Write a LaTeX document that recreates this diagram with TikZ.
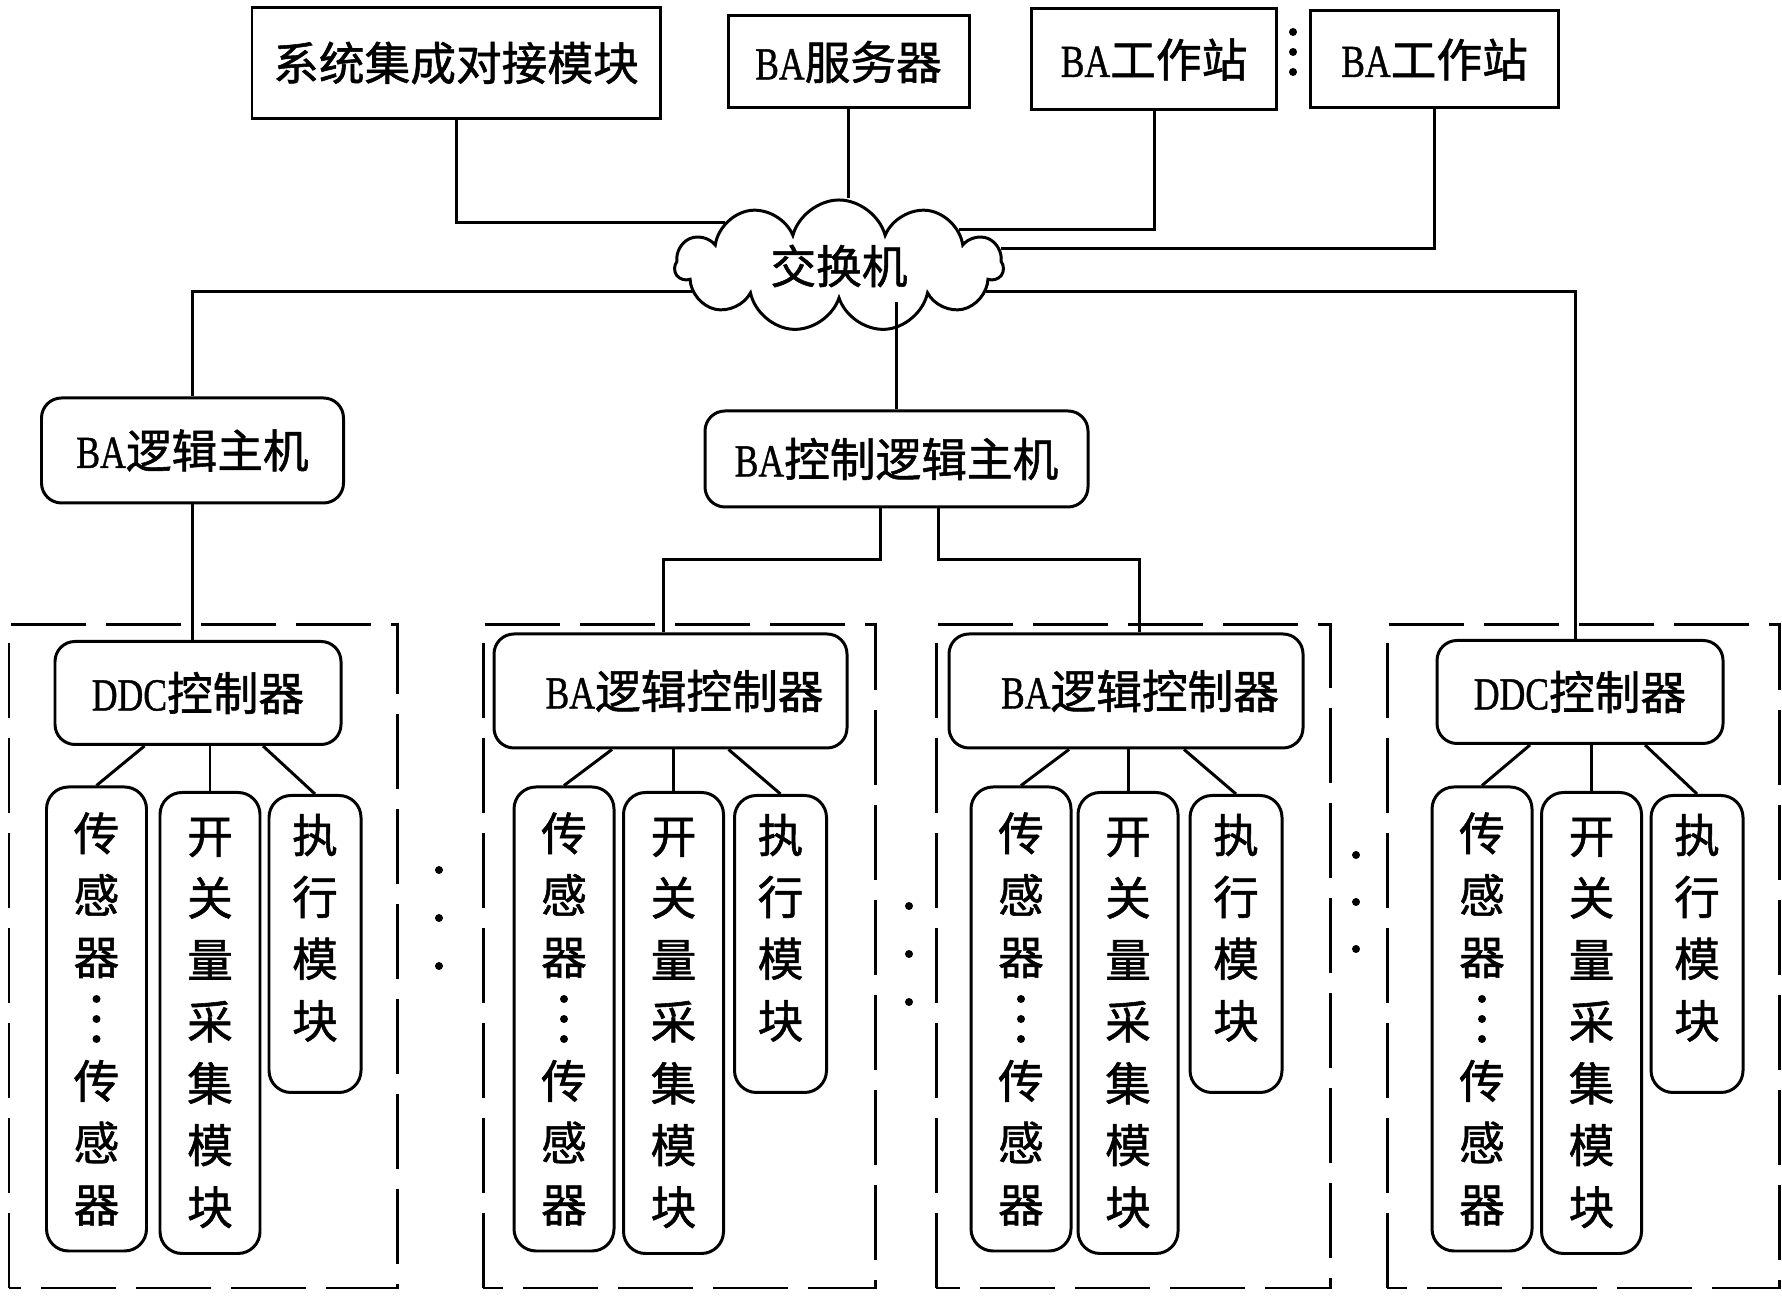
\documentclass[tikz,border=0pt]{standalone}
\usepackage{fontspec}
\usepackage{graphicx}
\setmainfont[FakeBold=1]{Liberation Serif}
\newfontfamily\cjk[FakeBold=1.2]{Noto Sans CJK SC}
\usetikzlibrary{shapes.symbols}
\newcommand{\lat}[1]{\scalebox{0.78}[1]{\rmfamily #1}}
\begin{document}
\begin{tikzpicture}[
        font=\fontsize{13pt}{17.6pt}\selectfont\cjk,
        line width=0.85pt,
        sqbox/.style={draw,rectangle,inner sep=0pt},
        rbox/.style={draw,rectangle,rounded corners=0.2cm,inner sep=0pt},
        leaf/.style={draw,rectangle,rounded corners=0.22cm,inner sep=0pt,align=center,minimum width=1cm},
        grp/.style={dash pattern=on 0.75cm off 0.2cm}]
        \def\W{17.82}   %define picture width
        \def\H{12.97}   %define picture height
        \path[fill=white,use as bounding box] (0,0) rectangle (\W,\H);
        % top row
        \node[sqbox,minimum width=4.08cm,minimum height=1.11cm] (sys) at (4.56,12.34) {系统集成对接模块};
        \node[sqbox,minimum width=2.41cm,minimum height=0.92cm] (srv) at (8.485,12.35) {\lat{BA}服务器};
        \node[sqbox,minimum width=2.45cm,minimum height=1.01cm] (ws1) at (11.54,12.375) {\lat{BA}工作站};
        \node[sqbox,minimum width=2.48cm,minimum height=0.97cm] (ws2) at (14.345,12.375) {\lat{BA}工作站};
        % switch
        \node[draw,cloud,cloud puffs=11,cloud ignores aspect,inner sep=0pt,
              minimum width=3.28cm,minimum height=1.32cm] (sw) at (8.39,10.31) {交换机};
        % hosts
        \node[rbox,minimum width=3.02cm,minimum height=1.05cm] (hostl) at (1.925,8.465) {\lat{BA}逻辑主机};
        \node[rbox,minimum width=3.83cm,minimum height=0.96cm] (hostc) at (8.965,8.38) {\lat{BA}控制逻辑主机};
        % group frames
        \foreach \a/\b in {0.09/3.97, 4.83/8.75, 9.36/13.30, 13.87/17.79}
            \draw[grp] (\a,0.09) rectangle (\b,6.72);
        % controllers
        \node[rbox,minimum width=2.86cm,minimum height=1.03cm] (c1) at (1.98,6.04) {\lat{DDC}控制器};
        \node[rbox,minimum width=3.53cm,minimum height=1.14cm] (c2) at (6.705,6.06) {\hspace*{0.28cm}\lat{BA}逻辑控制器};
        \node[rbox,minimum width=3.54cm,minimum height=1.14cm] (c3) at (11.26,6.06) {\hspace*{0.28cm}\lat{BA}逻辑控制器};
        \node[rbox,minimum width=2.86cm,minimum height=1.03cm] (c4) at (15.80,6.05) {\lat{DDC}控制器};
        % field modules
        \foreach \i/\sx/\kx/\ex in {1/0.965/2.10/3.15, 2/5.64/6.735/7.805, 3/10.21/11.28/12.36, 4/14.82/15.915/16.97}{
            \node[leaf,minimum height=4.64cm] (s\i) at (\sx,2.78) {传\\感\\器\\[0.62cm]传\\感\\器};
            \node[leaf,minimum height=4.61cm] (k\i) at (\kx,2.74) {开\\关\\量\\采\\集\\模\\块};
            \node[leaf,minimum width=0.92cm,minimum height=2.97cm] (e\i) at (\ex,3.53)
                {\parbox[c][2.6cm][t]{0.6cm}{\centering 执\\行\\模\\块}};
            \foreach \d in {-0.2,0,0.2} \fill (s\i.center) ++(0,\d) circle (0.04);
            \draw (s\i.north) -- ([xshift=0.48cm]s\i.north |- c\i.south);
            \draw (k\i.north) -- (k\i.north |- c\i.south);
            \draw (e\i.north) -- ([xshift=-0.52cm]e\i.north |- c\i.south);
        }
        % ellipsis dots
        \foreach \x/\y in {12.93/12.65, 12.93/12.45, 12.93/12.25, 4.39/4.27, 4.39/3.79, 4.39/3.31,
                           9.09/3.91, 9.09/3.43, 9.09/2.95, 13.56/4.42, 13.56/3.95, 13.56/3.48}
            \fill (\x,\y) circle (0.04);
        % links to the switch
        \draw (sys.south) |- (sw.159);
        \draw (srv.south) -- (srv.south |- sw.north);
        \draw (ws1.south) |- (sw.17);
        \draw (ws2.south) |- (sw.6);
        \draw (sw.190) -| (hostl.north);
        \draw (sw.350) -| ([xshift=-0.05cm]c4.north);
        \draw (hostc.north) -- (hostc.north |- sw.south);
        \draw (hostl.south) -- (hostl.south |- c1.north);
        \draw ([xshift=-0.165cm]hostc.south) -- ++(0,-0.51) -| ([xshift=-0.075cm]c2.north);
        \draw ([xshift=0.415cm]hostc.south) -- ++(0,-0.51) -| ([xshift=0.13cm]c3.north);
    \end{tikzpicture}
\end{document}
